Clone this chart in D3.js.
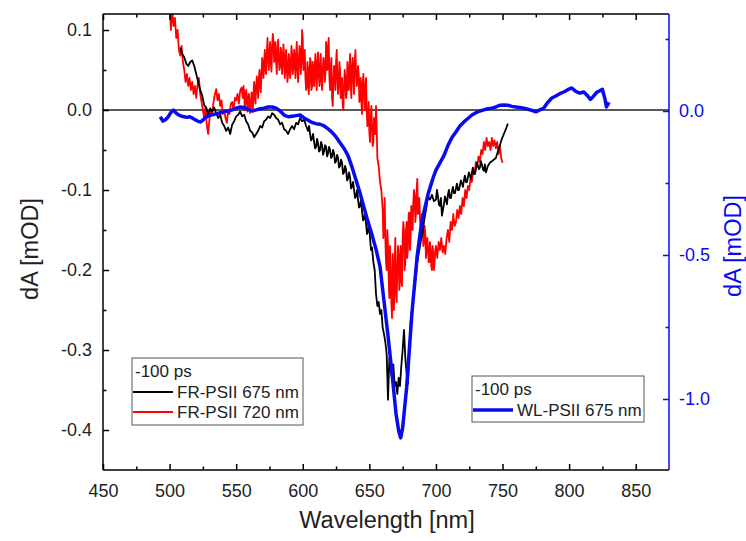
<!DOCTYPE html>
<html><head><meta charset="utf-8">
<script src="https://cdn.jsdelivr.net/npm/d3@7"></script>
<style>
body{margin:0;background:#fff;}
text{font-family:"Liberation Sans",Arial,sans-serif;}
</style></head>
<body><svg id="chart" width="746" height="541"></svg>
<script>
// ---------- data ----------
const xTicksMajor = [450,500,550,600,650,700,750,800,850];
const yLeftTicks = [-0.4,-0.3,-0.2,-0.1,0.0,0.1];
const yRightTicks = [-1.0,-0.5,0.0];
const legendTime = "-100 ps";
const seriesNames = ["FR-PSII 675 nm","FR-PSII 720 nm","WL-PSII 675 nm"];

// FR-PSII 675 nm (left axis) [wavelength nm, dA mOD]
const fr675Main = [[508,0.078],[509.5,0.07],[511,0.066],[512.5,0.058],[514,0.055],[515.5,0.06],[517,0.062],[518.5,0.055],[520,0.045],[521.5,0.035],[523,0.025],[524.5,0.018],[526,0.006],[527.5,0.003],[529,-0.006],[530.5,0.002],[532,-0.002],[533.5,0.003],[535,-0.004],[536.5,-0.01],[538,-0.006],[539.5,-0.016],[541,-0.02],[542.5,-0.026],[544,-0.022],[545.5,-0.03],[547,-0.018],[548.5,-0.014],[550,-0.008],[551.5,-0.006],[553,-0.002],[554.5,-0.008],[556,-0.006],[557.5,-0.014],[559,-0.018],[560.5,-0.026],[562,-0.028],[563.5,-0.034],[565,-0.03],[566.5,-0.026],[568,-0.02],[569.5,-0.022],[571,-0.014],[572.5,-0.012],[574,-0.008],[575.5,-0.01],[577,-0.004],[578.5,-0.006],[580,-0.01],[581.5,-0.012],[583,-0.018],[584.5,-0.016],[586,-0.024],[587.5,-0.026],[589,-0.03],[590.5,-0.024],[592,-0.02],[593.5,-0.024],[595,-0.016],[596.5,-0.018],[598,-0.01],[599.5,-0.014],[601,-0.012],[602.5,-0.02],[604,-0.026],[605.5,-0.03],[607,-0.036],[608.5,-0.04],[610,-0.046],[611.5,-0.042],[613,-0.05],[614.5,-0.044],[616,-0.052],[617.5,-0.046],[619,-0.054],[620.5,-0.05],[622,-0.058],[623.5,-0.054],[625,-0.064],[626.5,-0.06],[628,-0.07],[629.5,-0.066],[631,-0.078],[632.5,-0.074],[634,-0.086],[635.5,-0.084],[637,-0.096],[638.5,-0.1],[640,-0.108],[641.5,-0.112],[643,-0.12],[644.5,-0.126],[646,-0.136],[647.5,-0.142],[649,-0.152],[650.5,-0.16],[652,-0.172],[653,-0.19],[654,-0.2],[655,-0.23],[656,-0.245],[657,-0.24],[658,-0.255],[659,-0.25],[660,-0.272],[661,-0.28],[662,-0.29],[663,-0.305],[664,-0.362],[665,-0.31],[666,-0.325],[667,-0.335],[668,-0.318],[669,-0.345],[670,-0.34],[671,-0.355],[672,-0.335],[673,-0.345],[674,-0.32],[675,-0.3],[676,-0.275],[677,-0.31],[678,-0.33],[679,-0.342],[680,-0.3],[681,-0.265],[682,-0.25],[683,-0.235],[684,-0.22],[685,-0.207],[686,-0.19],[687,-0.18],[688,-0.17],[689,-0.16],[690,-0.153],[691,-0.14],[692,-0.13],[693,-0.12],[694,-0.108],[695.5,-0.112],[697,-0.106],[698.5,-0.114],[700,-0.112],[701.5,-0.108],[703,-0.12],[704.5,-0.132],[706,-0.118],[707.5,-0.112],[709,-0.106],[710.5,-0.11],[712,-0.102],[713.5,-0.104],[715,-0.098],[716.5,-0.1],[718,-0.094],[719.5,-0.092],[721,-0.088],[722.5,-0.09],[724,-0.084],[725.5,-0.082],[727,-0.078],[728.5,-0.08],[730,-0.074],[731.5,-0.07],[733,-0.072],[734.5,-0.068],[736,-0.076],[737.5,-0.078],[739,-0.07],[740.5,-0.066],[742,-0.064],[743.5,-0.062],[745,-0.06],[746.5,-0.052],[748,-0.044],[749.5,-0.036],[751,-0.03],[752.5,-0.024],[754,-0.017]];
const fr675Extra = [[604.75,-0.02],[606.25,-0.038],[607.75,-0.03],[609.25,-0.048],[610.75,-0.036],[612.25,-0.052],[613.75,-0.04],[615.25,-0.056],[616.75,-0.044],[618.25,-0.058],[619.75,-0.046],[621.25,-0.06],[622.75,-0.05],[624.25,-0.066],[625.75,-0.056],[627.25,-0.072],[628.75,-0.062],[630.25,-0.08],[631.75,-0.07],[633.25,-0.088],[634.75,-0.078],[636.25,-0.098],[637.75,-0.09],[639.25,-0.11],[640.75,-0.1],[642.25,-0.122],[643.75,-0.112],[645.25,-0.138],[646.75,-0.128],[648.25,-0.155],[649.75,-0.14],[651.25,-0.175],[700.75,-0.1],[702.25,-0.118],[703.75,-0.11],[705.25,-0.125],[706.75,-0.108],[708.25,-0.118],[709.75,-0.1],[711.25,-0.11],[712.75,-0.096],[714.25,-0.104],[715.75,-0.092],[717.25,-0.1],[718.75,-0.088],[720.25,-0.096],[721.75,-0.082],[723.25,-0.09],[724.75,-0.078],[726.25,-0.086],[727.75,-0.072],[729.25,-0.08],[730.75,-0.066],[732.25,-0.074],[733.75,-0.064],[735.25,-0.074],[736.75,-0.068],[738.25,-0.074]];

// FR-PSII 720 nm (left axis)
const fr720Main = [[500,0.13],[501,0.1],[502,0.125],[503,0.105],[504,0.115],[505,0.09],[506,0.1],[507,0.075],[508,0.068],[509,0.08],[510,0.06],[511,0.05],[512,0.035],[513,0.045],[514,0.03],[515,0.04],[516,0.025],[517,0.035],[518,0.02],[519,0.03],[520,0.015],[521,0.032],[522,0.04],[523,0.02],[524,0.01],[525,0.0],[526,-0.01],[527,0.004],[528,-0.02],[529,-0.03],[530,-0.01],[531,0.0],[532,-0.005],[533,0.01],[534,0.02],[535,0.026],[536,0.012],[537,0.02],[538,0.005],[539,0.012],[540,-0.005],[541,0.0],[542,-0.01],[543,-0.016],[544,0.0],[545,-0.005],[546,0.008],[547,0.01],[548,0.0],[549,0.015],[550,0.012],[551,0.02],[552,0.008],[553,0.024],[554,0.028],[555,0.015],[556,0.022],[557,0.01],[558,0.018],[559,0.005],[560,0.012],[561,0.004],[562,0.01],[563,0.02],[564,0.015],[565,0.03],[566,0.025],[567,0.038],[568,0.03],[569,0.045],[570,0.055],[571,0.06],[572,0.05],[573,0.07],[574,0.065],[575,0.072],[576,0.06],[577,0.078],[578,0.085],[579,0.07],[580,0.06],[581,0.075],[582,0.065],[583,0.055],[584,0.07],[585,0.06],[586,0.068],[587,0.05],[588,0.058],[589,0.045],[590,0.062],[591,0.05],[592,0.07],[593,0.055],[594,0.06],[595,0.07],[596,0.05],[597,0.058],[598,0.075],[599,0.06],[600,0.088],[601,0.065],[602,0.04],[603,0.028],[604,0.05],[605,0.035],[606,0.06],[607,0.03],[608,0.045],[609,0.055],[610,0.04],[611,0.06],[612,0.045],[613,0.055],[614,0.035],[615,0.05],[616,0.06],[617,0.045],[618,0.07],[619,0.08],[620,0.04],[621,0.05],[622,0.015],[623,0.035],[624,0.045],[625,0.06],[626,0.04],[627,0.03],[628,0.05],[629,0.02],[630,0.005],[631,0.03],[632,0.04],[633,0.02],[634,0.045],[635,0.05],[636,0.03],[637,0.055],[638,0.04],[639,0.06],[640,0.05],[641,0.035],[642,0.045],[643,0.02],[644,0.01],[645,0.035],[646,0.02],[647,0.03],[648,0.0],[649,-0.015],[650,-0.028],[651,-0.01],[652,-0.02],[653,-0.04],[654,-0.015],[655,0.005],[655.5,-0.02],[656,-0.06],[657,-0.07],[658,-0.09],[659,-0.1],[660,-0.125],[661,-0.14],[662,-0.16],[663,-0.2],[664,-0.17],[665,-0.235],[666,-0.2],[667,-0.26],[668,-0.22],[669,-0.19],[670,-0.23],[671,-0.2],[672,-0.18],[673,-0.215],[674,-0.2],[675,-0.16],[676,-0.15],[677,-0.19],[678,-0.14],[679,-0.17],[680,-0.128],[681,-0.16],[682,-0.13],[683,-0.115],[684,-0.107],[685,-0.13],[686,-0.086],[687,-0.12],[688,-0.135],[689,-0.15],[690,-0.14],[691,-0.165],[692,-0.155],[693,-0.175],[694,-0.17],[695,-0.19],[696,-0.175],[697,-0.2],[698,-0.18],[699,-0.19],[700,-0.17],[701,-0.185],[702,-0.165],[703,-0.175],[704,-0.16],[705,-0.178],[706,-0.17],[707,-0.18],[708,-0.16],[709,-0.15],[710,-0.165],[711,-0.14],[712,-0.15],[713,-0.13],[714,-0.145],[715,-0.14],[716,-0.125],[717,-0.135],[718,-0.12],[719,-0.13],[720,-0.11],[721,-0.12],[722,-0.1],[723,-0.11],[724,-0.095],[725,-0.1],[726,-0.085],[727,-0.09],[728,-0.075],[729,-0.08],[730,-0.065],[731,-0.07],[732,-0.058],[733,-0.065],[734,-0.05],[735,-0.055],[736,-0.04],[737,-0.05],[738,-0.035],[739,-0.045],[740,-0.04],[741,-0.05],[742,-0.035],[743,-0.045],[744,-0.038],[745,-0.048],[746,-0.04],[747,-0.055],[748,-0.045],[749,-0.06],[750,-0.066]];
const fr720Extra = [[555.5,0.03],[556.5,0.0],[557.5,0.025],[558.5,-0.002],[559.5,0.02],[560.5,-0.004],[561.5,0.022],[562.5,0.0],[563.5,0.035],[564.5,0.008],[565.5,0.042],[566.5,0.015],[567.5,0.05],[568.5,0.022],[569.5,0.065],[570.5,0.04],[571.5,0.075],[572.5,0.045],[573.5,0.09],[574.5,0.05],[575.5,0.085],[576.5,0.048],[577.5,0.095],[578.5,0.06],[579.5,0.085],[580.5,0.045],[581.5,0.088],[582.5,0.05],[583.5,0.078],[584.5,0.045],[585.5,0.082],[586.5,0.04],[587.5,0.075],[588.5,0.035],[589.5,0.07],[590.5,0.04],[591.5,0.08],[592.5,0.045],[593.5,0.075],[594.5,0.04],[595.5,0.085],[596.5,0.035],[597.5,0.08],[598.5,0.045],[599.5,0.1],[600.5,0.05],[601.5,0.075],[602.5,0.025],[603.5,0.06],[604.5,0.02],[605.5,0.065],[606.5,0.025],[607.5,0.06],[608.5,0.03],[609.5,0.07],[610.5,0.025],[611.5,0.072],[612.5,0.03],[613.5,0.07],[614.5,0.025],[615.5,0.065],[616.5,0.035],[617.5,0.085],[618.5,0.05],[619.5,0.09],[620.5,0.025],[621.5,0.065],[622.5,0.005],[623.5,0.055],[624.5,0.025],[625.5,0.075],[626.5,0.02],[627.5,0.06],[628.5,0.015],[629.5,0.04],[630.5,0.0],[631.5,0.05],[632.5,0.015],[633.5,0.06],[634.5,0.025],[635.5,0.07],[636.5,0.015],[637.5,0.065],[638.5,0.02],[639.5,0.075],[640.5,0.03],[641.5,0.055],[642.5,0.01],[643.5,0.04],[644.5,-0.005],[645.5,0.045],[646.5,0.0],[647.5,0.04],[648.5,-0.02],[649.5,0.01],[650.5,-0.04],[651.5,0.005],[652.5,-0.045],[653.5,-0.01],[654.5,-0.03],[660.5,-0.16],[661.5,-0.11],[662.5,-0.19],[663.5,-0.15],[664.5,-0.21],[665.5,-0.17],[666.5,-0.24],[667.5,-0.18],[668.5,-0.25],[669.5,-0.16],[670.5,-0.24],[671.5,-0.17],[672.5,-0.225],[673.5,-0.17],[674.5,-0.22],[675.5,-0.14],[676.5,-0.2],[677.5,-0.15],[678.5,-0.185],[679.5,-0.13],[680.5,-0.175],[681.5,-0.12],[682.5,-0.15],[683.5,-0.1],[684.5,-0.14],[685.5,-0.1],[686.5,-0.13],[687.5,-0.11],[688.5,-0.15],[689.5,-0.13],[690.5,-0.17],[691.5,-0.145],[692.5,-0.185],[693.5,-0.16],[694.5,-0.19],[695.5,-0.165],[696.5,-0.195],[697.5,-0.17],[698.5,-0.2],[699.5,-0.175]];

// WL-PSII 675 nm (right axis)
const wl675 = [[493,-0.02],[495,-0.035],[497,-0.03],[499,-0.02],[501,-0.005],[503,0.003],[505,-0.008],[507,-0.014],[509,-0.018],[511,-0.02],[513,-0.022],[515,-0.02],[517,-0.024],[519,-0.03],[521,-0.035],[523,-0.038],[525,-0.032],[527,-0.022],[529,-0.018],[531,-0.014],[533,-0.012],[535,-0.01],[538,-0.006],[541,-0.002],[544,0.0],[547,0.004],[550,0.01],[553,0.014],[556,0.012],[559,0.006],[562,0.0],[565,0.004],[568,0.008],[571,0.01],[574,0.014],[577,0.014],[580,0.01],[583,0.0],[586,-0.014],[589,-0.02],[592,-0.018],[595,-0.016],[598,-0.014],[601,-0.024],[604,-0.032],[607,-0.04],[610,-0.044],[613,-0.046],[616,-0.052],[619,-0.062],[622,-0.074],[625,-0.09],[628,-0.11],[631,-0.13],[634,-0.155],[637,-0.195],[640,-0.24],[643,-0.285],[646,-0.335],[649,-0.385],[652,-0.43],[655,-0.48],[658,-0.54],[661,-0.66],[664,-0.78],[667,-0.91],[670,-1.05],[672,-1.11],[673.5,-1.135],[675,-1.1],[676.5,-1.03],[678,-0.96],[680,-0.83],[682,-0.7],[684,-0.6],[686,-0.5],[688,-0.43],[690,-0.37],[692,-0.33],[694,-0.29],[696,-0.26],[698,-0.23],[700,-0.205],[703,-0.18],[706,-0.155],[709,-0.12],[712,-0.092],[715,-0.073],[718,-0.052],[721,-0.038],[724,-0.026],[727,-0.014],[730,-0.006],[733,0.0],[736,0.004],[739,0.008],[742,0.01],[745,0.014],[748,0.02],[751,0.021],[754,0.02],[757,0.016],[760,0.014],[763,0.012],[766,0.01],[769,0.006],[772,0.002],[775,-0.003],[778,0.004],[781,0.01],[784,0.03],[787,0.045],[790,0.052],[793,0.06],[796,0.066],[799,0.074],[802,0.08],[805,0.068],[808,0.062],[811,0.066],[814,0.052],[816,0.04],[818,0.05],[821,0.066],[823,0.07],[825,0.075],[827,0.04],[828,0.014],[830,0.03]];

const byWl = (a,b)=>a[0]-b[0];
const fr675 = fr675Main.concat(fr675Extra).sort(byWl);
const fr720 = fr720Main.concat(fr720Extra).sort(byWl);

// ---------- layout ----------
const L = 103, R = 669, T = 14, B = 470;
const BLUE = "#0a0af0";
const svg = d3.select("#chart");

const x = d3.scaleLinear().domain([450, 875]).range([L, R]);
const yL = d3.scaleLinear().domain([-0.45, 0.12]).range([B, T]);
const yR = d3.scaleLinear().domain([-1.2465, 0.3368]).range([B, T]);

svg.append("defs").append("clipPath").attr("id","clip")
  .append("rect").attr("x",L).attr("y",T).attr("width",R-L).attr("height",B-T);

// zero line
svg.append("line").attr("x1",L).attr("x2",R).attr("y1",yL(0)).attr("y2",yL(0))
  .attr("stroke","#222").attr("stroke-width",1.5);

const lineL = d3.line().x(d=>x(d[0])).y(d=>yL(d[1]));
const lineR = d3.line().x(d=>x(d[0])).y(d=>yR(d[1]));
const g = svg.append("g").attr("clip-path","url(#clip)");
g.append("path").datum(fr720).attr("d",lineL).attr("fill","none").attr("stroke","#ff0000").attr("stroke-width",1.8).attr("stroke-linejoin","round");
g.append("path").datum(fr675).attr("d",lineL).attr("fill","none").attr("stroke","#000").attr("stroke-width",1.8).attr("stroke-linejoin","round");
g.append("path").datum(wl675).attr("d",lineR).attr("fill","none").attr("stroke",BLUE).attr("stroke-width",3.5).attr("stroke-linejoin","round");

// ---------- axes ----------
function styleAxis(sel, color){
  sel.select(".domain").remove();
  sel.selectAll(".tick line").attr("stroke",color).attr("stroke-width",1.5);
  sel.selectAll(".tick text").attr("fill", color==="#000"?"#222":color).attr("font-size",18);
}
const xMinor = d3.range(475, 875, 50);
const yLMinor = [-0.35,-0.25,-0.15,-0.05,0.05];
const yRMinor = [-0.75,-0.25,0.25];

let ax = svg.append("g").attr("transform",`translate(0,${B})`)
  .call(d3.axisBottom(x).tickValues(xTicksMajor).tickSize(-6).tickPadding(14).tickFormat(d3.format("d")));
styleAxis(ax,"#000");
ax = svg.append("g").attr("transform",`translate(0,${B})`)
  .call(d3.axisBottom(x).tickValues(xMinor).tickSize(-3.5).tickFormat(""));
styleAxis(ax,"#000");
ax = svg.append("g").attr("transform",`translate(0,${T})`)
  .call(d3.axisTop(x).tickValues(xTicksMajor).tickSize(-6).tickFormat(""));
styleAxis(ax,"#000");
ax = svg.append("g").attr("transform",`translate(0,${T})`)
  .call(d3.axisTop(x).tickValues(xMinor).tickSize(-3.5).tickFormat(""));
styleAxis(ax,"#000");
ax = svg.append("g").attr("transform",`translate(${L},0)`)
  .call(d3.axisLeft(yL).tickValues(yLeftTicks).tickSize(-6).tickPadding(11).tickFormat(d3.format(".1f")));
styleAxis(ax,"#000");
ax.selectAll(".tick text").text(d=>d3.format(".1f")(d).replace("−","-"));
ax = svg.append("g").attr("transform",`translate(${L},0)`)
  .call(d3.axisLeft(yL).tickValues(yLMinor).tickSize(-3.5).tickFormat(""));
styleAxis(ax,"#000");
ax = svg.append("g").attr("transform",`translate(${R},0)`)
  .call(d3.axisRight(yR).tickValues(yRightTicks).tickSize(-6).tickPadding(10).tickFormat(d3.format(".1f")));
styleAxis(ax,BLUE);
ax.selectAll(".tick text").text(d=>d3.format(".1f")(d).replace("−","-"));
ax = svg.append("g").attr("transform",`translate(${R},0)`)
  .call(d3.axisRight(yR).tickValues(yRMinor).tickSize(-3.5).tickFormat(""));
styleAxis(ax,BLUE);

// frame
svg.append("line").attr("x1",L).attr("x2",R).attr("y1",T).attr("y2",T).attr("stroke","#000").attr("stroke-width",1.5);
svg.append("line").attr("x1",L).attr("x2",R).attr("y1",B).attr("y2",B).attr("stroke","#000").attr("stroke-width",1.5);
svg.append("line").attr("x1",L).attr("x2",L).attr("y1",T).attr("y2",B).attr("stroke","#000").attr("stroke-width",1.5);
svg.append("line").attr("x1",R).attr("x2",R).attr("y1",T).attr("y2",B).attr("stroke",BLUE).attr("stroke-width",1.5);

// axis titles
svg.append("text").attr("x",(L+R)/2 + 1).attr("y",528).attr("text-anchor","middle")
  .attr("font-size",23.5).attr("fill","#222").text("Wavelength [nm]");
svg.append("text").attr("transform","translate(38,249) rotate(-90)").attr("text-anchor","middle")
  .attr("font-size",23.5).attr("fill","#222").text("dA [mOD]");
svg.append("text").attr("transform","translate(741,246) rotate(-90)").attr("text-anchor","middle")
  .attr("font-size",23.5).attr("fill",BLUE).text("dA [mOD]");

// ---------- legends ----------
function legend(x0, y0, w, h, items){
  const lg = svg.append("g");
  lg.append("rect").attr("x",x0).attr("y",y0).attr("width",w).attr("height",h)
    .attr("fill","#fff").attr("stroke","#555").attr("stroke-width",1);
  lg.append("text").attr("x",x0+3).attr("y",y0+19).attr("font-size",17).attr("fill","#222").text(legendTime);
  items.forEach((it,i)=>{
    const yy = y0 + 34 + i*20;
    lg.append("line").attr("x1",x0+1).attr("x2",x0+41).attr("y1",yy).attr("y2",yy)
      .attr("stroke",it.color).attr("stroke-width",it.w);
    lg.append("text").attr("x",x0+45).attr("y",yy+6).attr("font-size",17).attr("fill","#222").text(it.name);
  });
}
legend(132, 358, 171, 67, [{name:seriesNames[0],color:"#000",w:2},{name:seriesNames[1],color:"#ff0000",w:2}]);
legend(472, 376, 172, 46, [{name:seriesNames[2],color:BLUE,w:3.5}]);
</script></body></html>
